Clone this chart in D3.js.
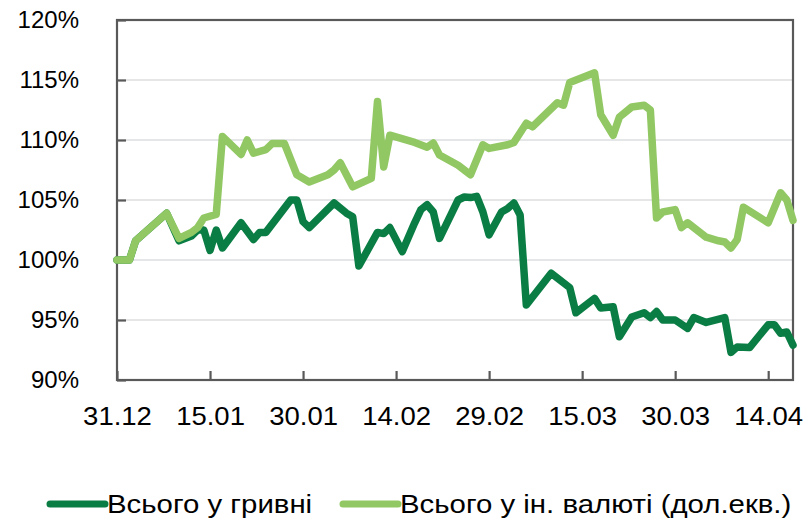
<!DOCTYPE html>
<html>
<head>
<meta charset="utf-8">
<script src="https://cdn.jsdelivr.net/npm/d3@7"></script>
<style>
  body { margin: 0; background: #fff; }
  svg text { font-family: "Liberation Sans", Arial, sans-serif; fill: #000; }
</style>
</head>
<body>
<div class="container"></div>
<script>
// DATA
const xTickLabels = ["31.12", "15.01", "30.01", "14.02", "29.02", "15.03", "30.03", "14.04"];
const yTickValues = [90, 95, 100, 105, 110, 115, 120];

// hryvnia series (dark green)
const uahDates = ["31.12","02.01","03.01","08.01","10.01","12.01","13.01","14.01","15.01","16.01","17.01","20.01",
  "22.01","23.01","24.01","28.01","29.01","30.01","31.01","04.02","06.02","07.02","08.02","11.02","12.02","13.02",
  "15.02","17.02","18.02","19.02","20.02","21.02","24.02","25.02","26.02","27.02","28.02","29.02","02.03","03.03",
  "04.03","05.03","06.03","10.03","13.03","14.03","17.03","18.03","20.03","21.03","23.03","25.03","26.03","27.03",
  "28.03","30.03","01.04","02.04","04.04","07.04","08.04","09.04","11.04","14.04","15.04","16.04","17.04","18.04"];
const uahValues = [100.0,100.0,101.6,103.9,101.6,102.0,102.5,102.5,100.8,102.5,101.0,103.1,
  101.7,102.3,102.3,105.0,105.0,103.2,102.7,104.75,103.9,103.6,99.5,102.3,102.2,102.7,
  100.7,103.1,104.2,104.6,104.0,101.8,105.0,105.25,105.2,105.3,104.0,102.1,104.0,104.3,
  104.75,103.75,96.25,98.9,97.7,95.6,96.8,96.0,96.1,93.6,95.25,95.6,95.2,95.7,
  95.0,95.0,94.3,95.2,94.8,95.2,92.3,92.75,92.7,94.6,94.6,93.9,94.0,92.9];

// foreign currency series (light green)
const fxDates = ["31.12","02.01","03.01","08.01","10.01","12.01","13.01","14.01","16.01","17.01","20.01","21.01",
  "22.01","24.01","25.01","27.01","29.01","31.01","03.02","04.02","05.02","07.02","10.02","11.02","12.02","13.02",
  "17.02","19.02","20.02","21.02","24.02","26.02","28.02","29.02","03.03","04.03","06.03","07.03","11.03","12.03",
  "13.03","17.03","18.03","20.03","21.03","23.03","25.03","26.03","27.03","28.03","30.03","31.03","01.04","04.04",
  "06.04","07.04","08.04","09.04","10.04","14.04","16.04","17.04","18.04"];
const fxValues = [100.0,100.0,101.6,103.9,101.8,102.3,102.7,103.5,103.8,110.3,108.8,110.0,
  108.9,109.2,109.7,109.7,107.1,106.5,107.1,107.5,108.1,106.1,106.8,113.2,107.75,110.4,
  109.8,109.4,109.75,108.75,107.9,107.1,109.6,109.3,109.6,109.8,111.4,111.1,113.1,112.9,
  114.8,115.6,112.1,110.4,111.9,112.75,112.9,112.5,103.5,104.0,104.2,102.7,103.1,101.9,
  101.6,101.5,101.0,101.7,104.4,103.1,105.6,105.0,103.3];

const seriesNames = ["Всього у гривні", "Всього у ін. валюті (дол.екв.)"];
const seriesColors = ["#0a7d44", "#92c863"];

// SETUP
const W = 812, H = 518;
const margin = { top: 20, right: 19, bottom: 138, left: 117 };

const parseDay = (s) => {
  const [d, m] = s.split(".").map(Number);
  return m === 12 ? new Date(2023, 11, d) : new Date(2024, m - 1, d);
};

const svg = d3.select("div.container")
  .append("svg")
  .attr("width", W)
  .attr("height", H);

const x = d3.scaleTime()
  .domain([parseDay("31.12"), parseDay("18.04")])
  .range([margin.left, W - margin.right]);

const y = d3.scaleLinear()
  .domain([90, 120])
  .range([H - margin.bottom, margin.top]);

// gridlines
svg.append("g")
  .selectAll("line")
  .data(yTickValues.filter(v => v > 90 && v < 120))
  .enter()
  .append("line")
  .attr("x1", margin.left)
  .attr("x2", W - margin.right)
  .attr("y1", d => y(d))
  .attr("y2", d => y(d))
  .attr("stroke", "#c9cdd1")
  .attr("stroke-width", 1.2);

// frame
svg.append("rect")
  .attr("x", margin.left)
  .attr("y", margin.top)
  .attr("width", W - margin.right - margin.left)
  .attr("height", H - margin.bottom - margin.top)
  .attr("fill", "none")
  .attr("stroke", "#595959")
  .attr("stroke-width", 2.2);

// axes, ticks pointing inwards
const xAxis = d3.axisBottom(x)
  .tickValues(xTickLabels.map(parseDay))
  .tickFormat(d3.timeFormat("%d.%m"))
  .tickSizeInner(-9)
  .tickSizeOuter(0)
  .tickPadding(27);

svg.append("g")
  .attr("transform", `translate(0, ${H - margin.bottom})`)
  .call(xAxis)
  .call(g => g.select(".domain").remove())
  .call(g => g.selectAll("line").attr("stroke", "#595959").attr("stroke-width", 2.2))
  .call(g => g.selectAll("text").style("font-size", "25px").attr("fill", "#000")
    .attr("transform", "scale(1.1, 1)"));

const yAxis = d3.axisLeft(y)
  .tickValues(yTickValues)
  .tickFormat(d => d + "%")
  .tickSizeInner(-9)
  .tickSizeOuter(0)
  .tickPadding(38);

svg.append("g")
  .attr("transform", `translate(${margin.left}, 0)`)
  .call(yAxis)
  .call(g => g.select(".domain").remove())
  .call(g => g.selectAll("line").attr("stroke", "#595959").attr("stroke-width", 2.2))
  .call(g => g.selectAll("text").style("font-size", "24px").attr("fill", "#000"));

// lines
const line = d3.line()
  .x(d => x(d.date))
  .y(d => y(d.value));

const series = [
  uahDates.map((d, i) => ({ date: parseDay(d), value: uahValues[i] })),
  fxDates.map((d, i) => ({ date: parseDay(d), value: fxValues[i] }))
];

svg.append("g")
  .selectAll("path")
  .data(series)
  .enter()
  .append("path")
  .attr("d", line)
  .attr("fill", "none")
  .attr("stroke", (d, i) => seriesColors[i])
  .attr("stroke-width", 7.5)
  .attr("stroke-linejoin", "round")
  .attr("stroke-linecap", "round");

// legend
const legendX = [50, 343];
const legend = svg.append("g")
  .selectAll("g")
  .data(seriesNames)
  .enter()
  .append("g")
  .attr("transform", (d, i) => `translate(${legendX[i]}, 504)`);

legend.append("line")
  .attr("x1", 0)
  .attr("x2", 55)
  .attr("stroke", (d, i) => seriesColors[i])
  .attr("stroke-width", 7)
  .attr("stroke-linecap", "round");

legend.append("text")
  .attr("transform", "translate(57, 0) scale(1.13, 1)")
  .attr("dy", "0.36em")
  .style("font-size", "26px")
  .text(d => d);
</script>
</body>
</html>
